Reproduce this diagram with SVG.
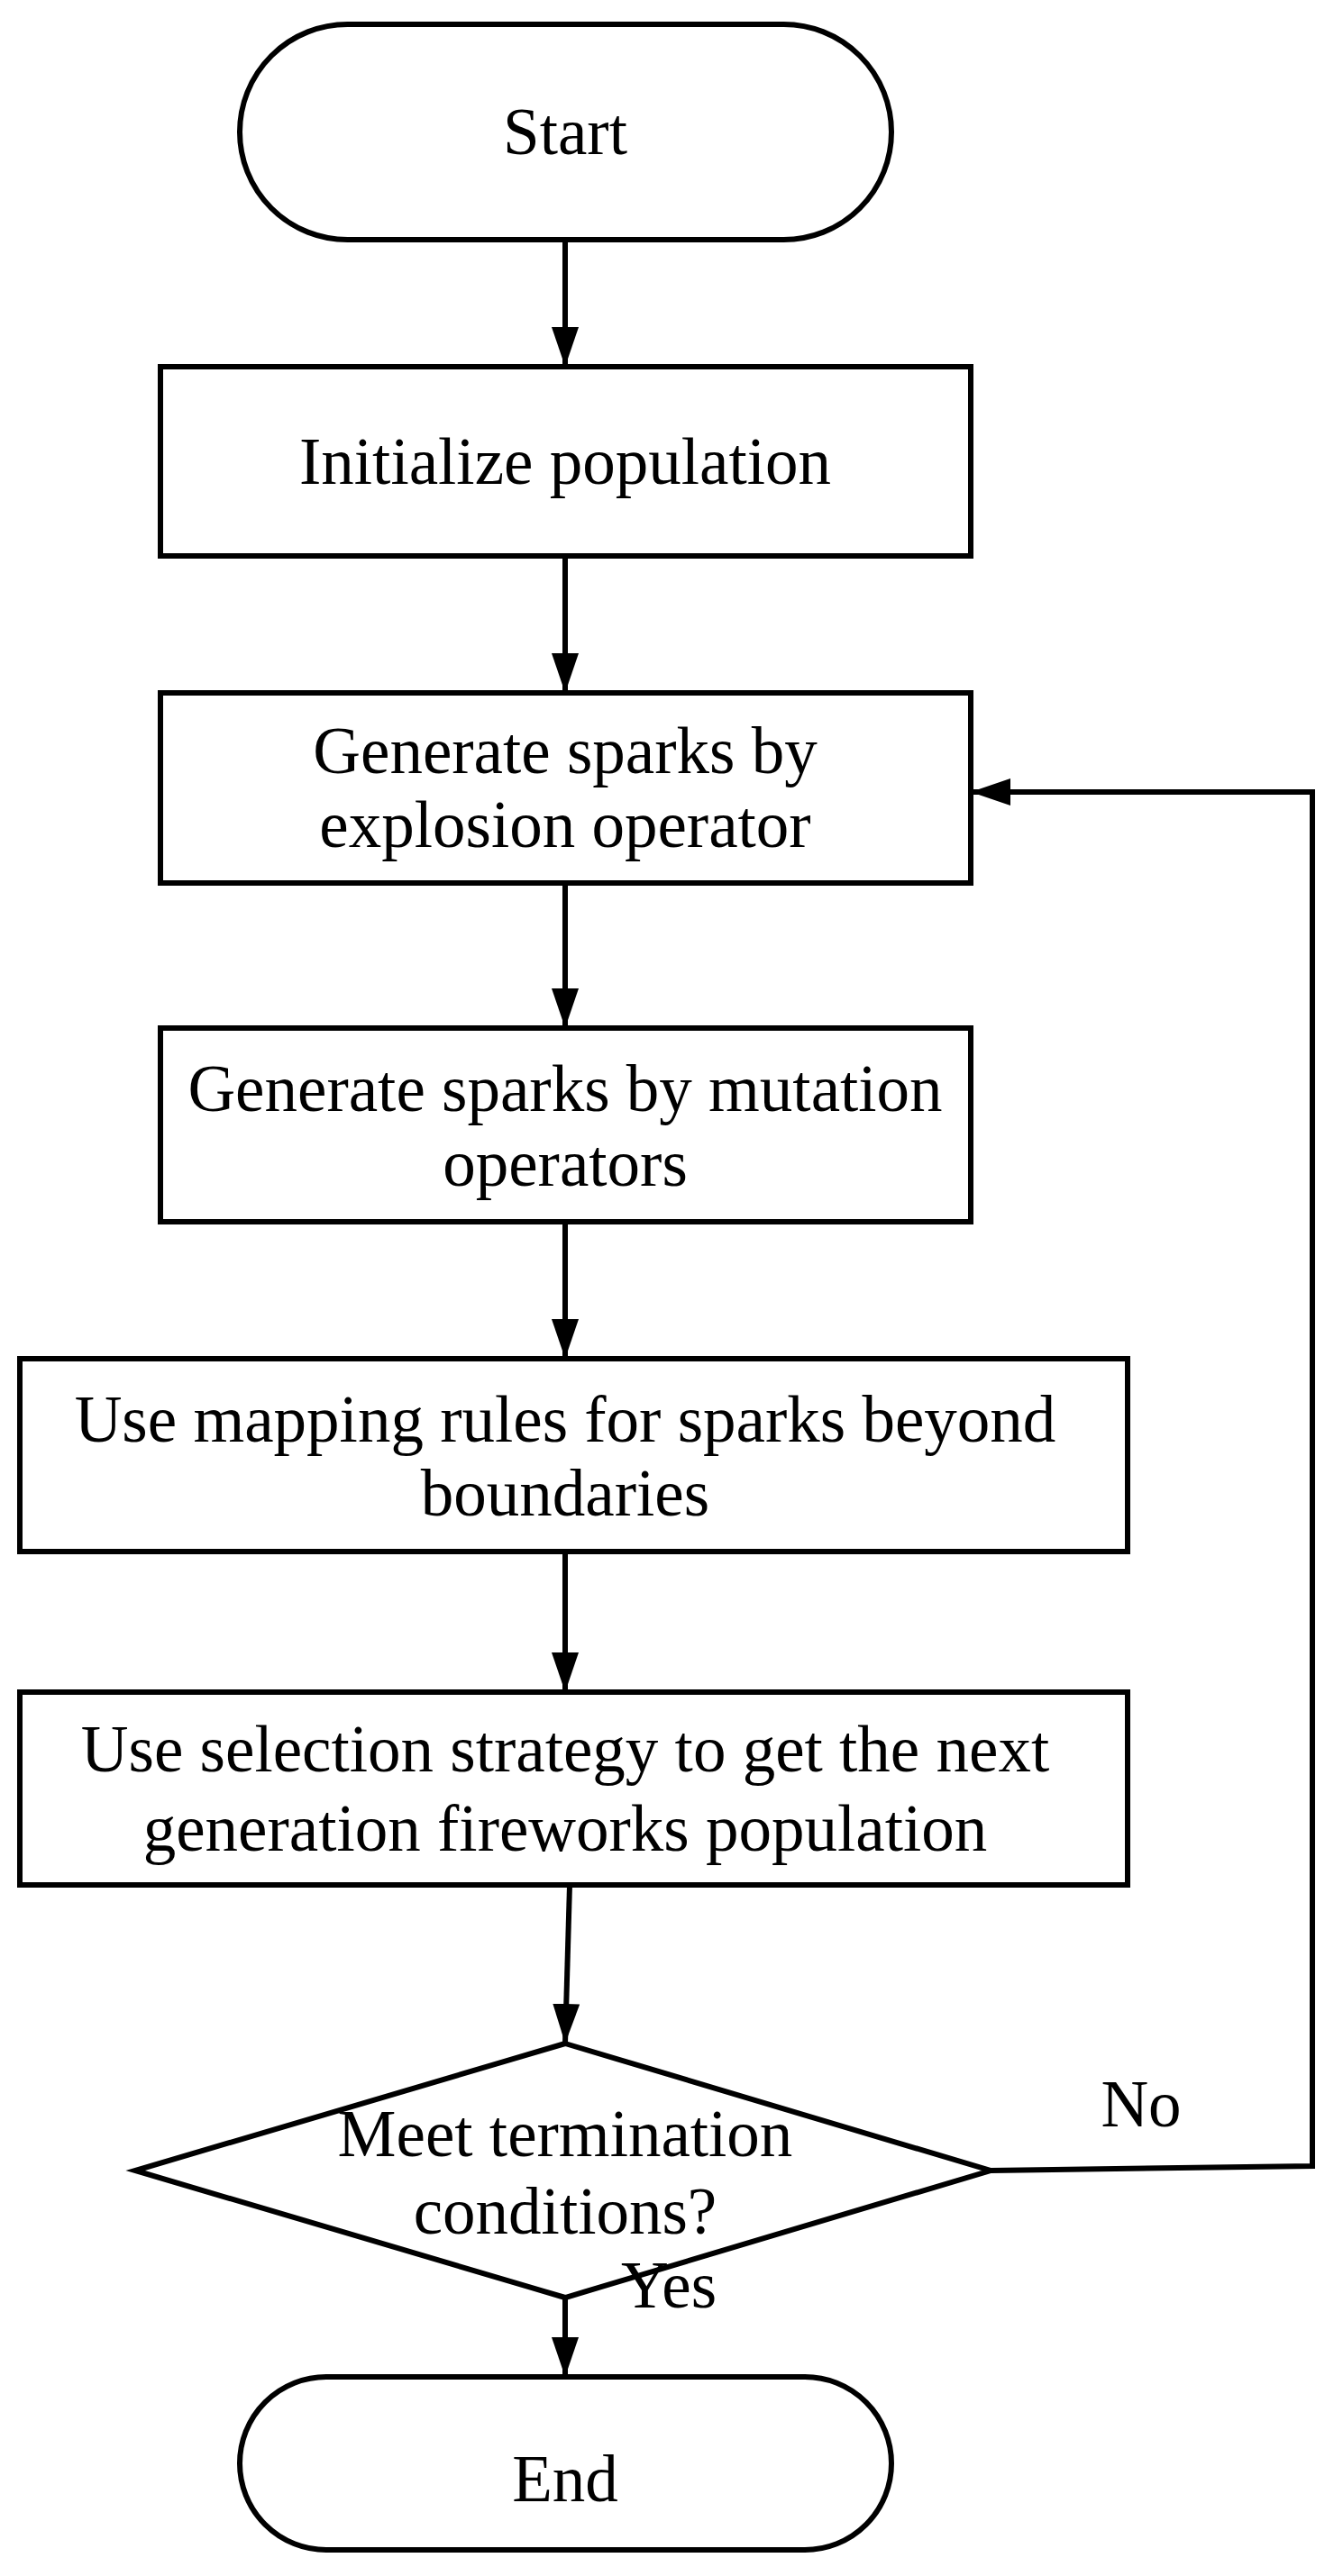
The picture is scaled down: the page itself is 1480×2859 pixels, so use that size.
<svg xmlns="http://www.w3.org/2000/svg" width="1480" height="2859" viewBox="0 0 1480 2859">
<defs>
<style>
.s{fill:#fff;stroke:#000;stroke-width:6}
.t{font-family:"Liberation Serif",serif;font-size:73px;text-anchor:middle;fill:#000}
.c{fill:none;stroke:#000;stroke-width:6}
</style>
<marker id="a" markerWidth="44" markerHeight="30" refX="44" refY="15" orient="auto" markerUnits="userSpaceOnUse" viewBox="0 0 44 30">
<path d="M0,0 L44,15 L0,30 Z" fill="#000"/>
</marker>
</defs>
<g id="start"><rect class="s" x="266" y="27" width="723" height="239" rx="119.5"/><text class="t" x="627" y="171">Start</text></g>
<g id="n1"><rect class="s" x="178" y="407" width="899" height="210"/><text class="t" x="627" y="537">Initialize population</text></g>
<g id="n2"><rect class="s" x="178" y="769" width="899" height="211"/><text class="t" x="627" y="858">Generate sparks by</text><text class="t" x="627" y="940">explosion operator</text></g>
<g id="n3"><rect class="s" x="178" y="1141" width="899" height="215"/><text class="t" x="627" y="1233">Generate sparks by mutation</text><text class="t" x="627" y="1316">operators</text></g>
<g id="n4"><rect class="s" x="22" y="1508" width="1229" height="214"/><text class="t" x="627" y="1600">Use mapping rules for sparks beyond</text><text class="t" x="627" y="1682">boundaries</text></g>
<g id="n5"><rect class="s" x="22" y="1878" width="1229" height="214"/><text class="t" x="627" y="1966">Use selection strategy to get the next</text><text class="t" x="627" y="2054">generation fireworks population</text></g>
<g id="d"><polygon class="s" points="627,2268 1099,2409 627,2550 150,2409"/><text class="t" x="627" y="2393">Meet termination</text><text class="t" x="627" y="2479">conditions?</text></g>
<g id="end"><rect class="s" x="266" y="2638" width="723" height="192" rx="96"/><text class="t" x="627" y="2776">End</text></g>
<g id="connectors">
<path class="c" d="M627,266 V407" marker-end="url(#a)"/>
<path class="c" d="M627,617 V769" marker-end="url(#a)"/>
<path class="c" d="M627,980 V1141" marker-end="url(#a)"/>
<path class="c" d="M627,1356 V1508" marker-end="url(#a)"/>
<path class="c" d="M627,1722 V1878" marker-end="url(#a)"/>
<path class="c" d="M632,2092 L627,2268" marker-end="url(#a)"/>
<path class="c" d="M627,2550 V2638" marker-end="url(#a)"/>
<path class="c" d="M1099,2409 L1456,2404 V879 H1077" marker-end="url(#a)"/>
<text class="t" x="1266" y="2360">No</text>
<text class="t" x="742" y="2561">Yes</text>
</g>
</svg>
